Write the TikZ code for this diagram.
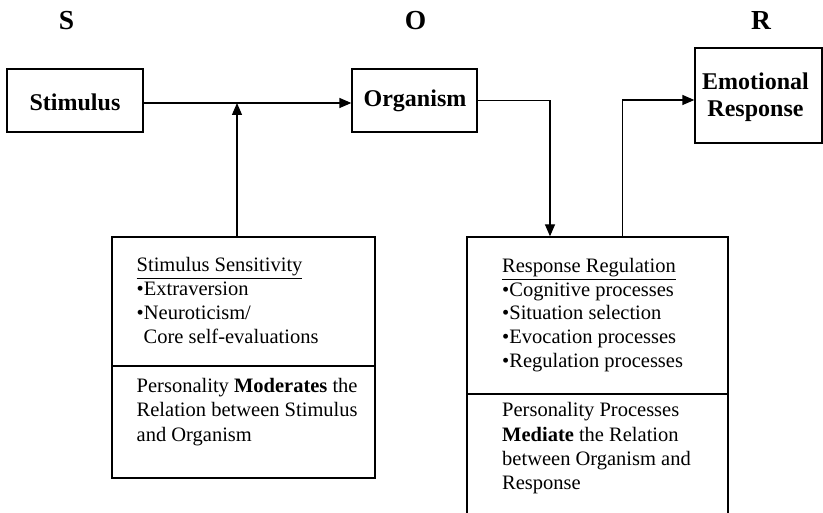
\documentclass[tikz,border=0pt]{standalone}
\usepackage{fontspec}
\setmainfont{Liberation Serif}
\usetikzlibrary{arrows.meta,calc}
\tikzset{
 box/.style={draw, line width=1.3pt, rectangle, inner sep=0pt},
 conn/.style={line width=1.3pt, -{Triangle[length=12pt,width=10pt]}},
 hdr/.style={font=\fontsize{27.5}{32}\selectfont\bfseries, anchor=base, inner sep=0pt},
 lbl/.style={font=\fontsize{24}{28}\selectfont\bfseries, align=center, inner sep=0pt},
 txt/.style={font=\fontsize{20.5}{24}\selectfont, anchor=base west, inner sep=0pt},
}
\begin{document}
\begin{tikzpicture}[x=1pt,y=-1pt]
\useasboundingbox (0,0) rectangle (823,513);
\clip (0,0) rectangle (823,513);
% headers
\node[hdr] (hS) at (66.5,30) {S};
\node[hdr] (hO) at (415.5,30) {O};
\node[hdr] (hR) at (761,30) {R};
% top boxes
\node[box, minimum width=136pt, minimum height=63pt] (stim) at (75,100.5) {};
\node[lbl] (stimt) at (75,102) {Stimulus};
\node[box, minimum width=125pt, minimum height=63pt] (org) at (414.5,100.5) {};
\node[lbl] (orgt) at (415,101) {Organism};
\node[box, minimum width=127pt, minimum height=95pt] (emo) at (758.5,95.5) {};
\node[lbl] (emot) at (755.5,97) {Emotional\\[-1pt]Response};
% lower boxes
\node[box, minimum width=263pt, minimum height=241pt] (mod) at (243.5,357.5) {};
\node[box, minimum width=261pt, minimum height=303pt] (med) at (597.5,388.5) {};
\coordinate (modL) at (112,366);
\coordinate (modR) at (375,366);
\coordinate (medL) at (467,394);
\coordinate (medR) at (728,394);
\draw[line width=1.3pt] (modL) -- (modR);
\draw[line width=1.3pt] (medL) -- (medR);
% left texts
\node[txt] (m1) at (136.5,272) {\underline{Stimulus Sensitivity}};
\node[txt] (m2) at (136.5,296) {•Extraversion};
\node[txt] (m3) at (136.5,320) {•Neuroticism/};
\node[txt] (m4) at (143.5,344) {Core self-evaluations};
\node[txt] (m5) at (136.5,393) {Personality \textbf{Moderates} the};
\node[txt] (m6) at (136.5,417) {Relation between Stimulus};
\node[txt] (m7) at (136.5,441) {and Organism};
% right texts
\node[txt] (r1) at (502,273) {\underline{Response Regulation}};
\node[txt] (r2) at (502,296.5) {•Cognitive processes};
\node[txt] (r3) at (502,320) {•Situation selection};
\node[txt] (r4) at (502,343.5) {•Evocation processes};
\node[txt] (r5) at (502,367) {•Regulation processes};
\node[txt] (r6) at (502,417) {Personality Processes};
\node[txt] (r7) at (502,441) {\textbf{Mediate} the Relation};
\node[txt] (r8) at (502,465) {between Organism and};
\node[txt] (r9) at (502,489) {Response};
% connectors
\draw[conn] ([yshift=-2.5pt]stim.east) -- ([yshift=-2.5pt]org.west);
\draw[conn] ([xshift=-6.5pt]mod.north) -- ([xshift=-6.5pt,yshift=-2.5pt]mod.north |- stim.east);
\draw[conn] (org.east) -| ([xshift=-47.5pt]med.north);
\draw[conn] ([xshift=25pt]med.north) |- ([yshift=-4.5pt]emo.west);
\end{tikzpicture}
\end{document}
